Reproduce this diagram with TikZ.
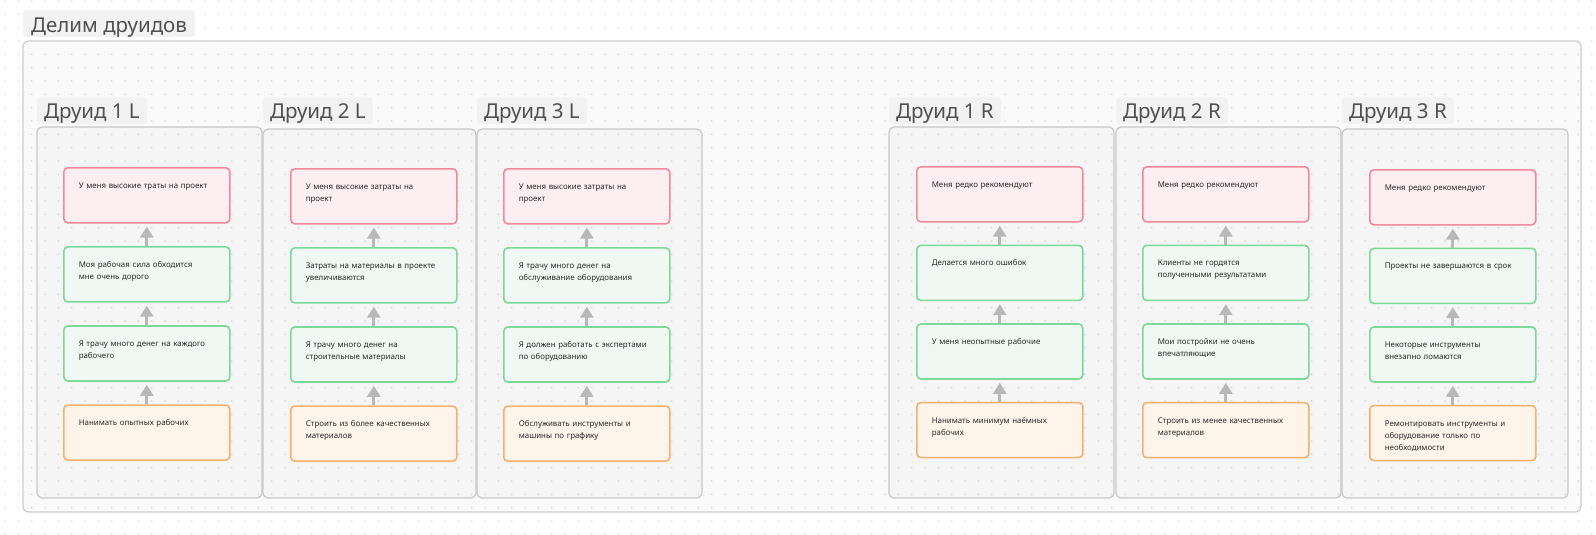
\documentclass[tikz,border=0pt]{standalone}
\usepackage{fontspec}
\setmainfont{Noto Sans}
\usetikzlibrary{arrows.meta,positioning}
\definecolor{pagedot}{HTML}{D6D6D6}
\definecolor{boardfill}{HTML}{FAFAFA}
\definecolor{boardline}{HTML}{CDCDCD}
\definecolor{colfill}{HTML}{F5F5F5}
\definecolor{colline}{HTML}{C8C8C8}
\definecolor{tagfill}{HTML}{F2F2F2}
\definecolor{tagtext}{HTML}{505050}
\definecolor{probline}{HTML}{F1899A}
\definecolor{probfill}{HTML}{FDEEF1}
\definecolor{causeline}{HTML}{7DD89A}
\definecolor{causefill}{HTML}{EFF8F2}
\definecolor{actline}{HTML}{F5B06E}
\definecolor{actfill}{HTML}{FEF4EA}
\definecolor{linkgray}{HTML}{B8B8B8}
\definecolor{cardtext}{HTML}{2A2A2A}
\tikzset{
  every picture/.style={line join=round},
  board/.style={fill=boardfill, draw=boardline, line width=1.2pt, rounded corners=5pt},
  column/.style={fill=colfill, draw=colline, line width=1.2pt, rounded corners=5pt},
  tag/.style={fill=tagfill, rounded corners=3pt, text=tagtext, inner xsep=7pt, inner ysep=0pt,
    text height=21pt, text depth=5.5pt, font=\fontsize{20.5}{24}\selectfont},
  card/.style={rounded corners=4pt, line width=1.6pt, text width=136pt, inner xsep=15pt,
    inner ysep=0pt, text height=20.5pt, text depth=34.5pt, align=left, text=cardtext,
    font=\fontsize{7.9}{12}\selectfont},
  prob/.style={card, draw=probline, fill=probfill},
  cause/.style={card, draw=causeline, fill=causefill},
  act/.style={card, draw=actline, fill=actfill},
  link/.style={linkgray, line width=2.8pt, -{Triangle[length=11pt,width=13pt]}, shorten >=3pt},
}

\begin{document}
\begin{tikzpicture}[x=1pt, y=-1pt]
\useasboundingbox[fill=white] (0,0) rectangle (1596,535);
% board and druid columns
\draw[board] (23,41) rectangle (1581,512);
\draw[column] (37,127) rectangle (262,498);
\draw[column] (263,129) rectangle (476,498);
\draw[column] (477,129) rectangle (702,498);
\draw[column] (889,127) rectangle (1114,498);
\draw[column] (1116,127) rectangle (1341,498);
\draw[column] (1342,129) rectangle (1568,498);
% dot grid
\foreach \j in {0,...,40}
  \fill[pagedot] \foreach \i in {0,...,119} {(4.3+13.333*\i, 0.3+13.333*\j) rectangle ++(1.4,1.4)};
% titles
\node[tag, anchor=south west, inner xsep=8pt, text height=22.3pt, text depth=4.7pt] (title) at (23,37) {Делим друидов};
\node[tag, anchor=south west] (h1l) at (37,124) {Друид 1 L};
\node[tag, anchor=south west] (h2l) at (263,124) {Друид 2 L};
\node[tag, anchor=south west] (h3l) at (477,124) {Друид 3 L};
\node[tag, anchor=south west] (h1r) at (889,124) {Друид 1 R};
\node[tag, anchor=south west] (h2r) at (1116,124) {Друид 2 R};
\node[tag, anchor=south west] (h3r) at (1342,124) {Друид 3 R};
% druid 1 L
\node[prob, anchor=north west] (l1prob) at (63,167) {У меня высокие траты на проект};
\node[cause, below=22.5pt of l1prob] (l1why) {Моя рабочая сила обходится\\мне очень дорого};
\node[cause, below=22.5pt of l1why] (l1root) {Я трачу много денег на каждого\\рабочего};
\node[act, below=22.5pt of l1root] (l1act) {Нанимать опытных рабочих};
% druid 2 L
\node[prob, anchor=north west] (l2prob) at (290,168) {У меня высокие затраты на\\проект};
\node[cause, below=22.5pt of l2prob] (l2why) {Затраты на материалы в проекте\\увеличиваются};
\node[cause, below=22.5pt of l2why] (l2root) {Я трачу много денег на\\строительные материалы};
\node[act, below=22.5pt of l2root] (l2act) {Строить из более качественных\\материалов};
% druid 3 L
\node[prob, anchor=north west] (l3prob) at (503,168) {У меня высокие затраты на\\проект};
\node[cause, below=22.5pt of l3prob] (l3why) {Я трачу много денег на\\обслуживание оборудования};
\node[cause, below=22.5pt of l3why] (l3root) {Я должен работать с экспертами\\по оборудованию};
\node[act, below=22.5pt of l3root] (l3act) {Обслуживать инструменты и\\машины по графику};
% druid 1 R
\node[prob, anchor=north west] (r1prob) at (916,166) {Меня редко рекомендуют};
\node[cause, below=22pt of r1prob] (r1why) {Делается много ошибок};
\node[cause, below=22pt of r1why] (r1root) {У меня неопытные рабочие};
\node[act, below=22pt of r1root] (r1act) {Нанимать минимум наёмных\\рабочих};
% druid 2 R
\node[prob, anchor=north west] (r2prob) at (1142,166) {Меня редко рекомендуют};
\node[cause, below=22pt of r2prob] (r2why) {Клиенты не гордятся\\полученными результатами};
\node[cause, below=22pt of r2why] (r2root) {Мои постройки не очень\\впечатляющие};
\node[act, below=22pt of r2root] (r2act) {Строить из менее качественных\\материалов};
% druid 3 R
\node[prob, anchor=north west] (r3prob) at (1369,169) {Меня редко рекомендуют};
\node[cause, below=22pt of r3prob] (r3why) {Проекты не завершаются в срок};
\node[cause, below=22pt of r3why] (r3root) {Некоторые инструменты\\внезапно ломаются};
\node[act, below=22pt of r3root] (r3act) {Ремонтировать инструменты и\\оборудование только по\\необходимости};
% links upwards
\foreach \c in {l1,l2,l3,r1,r2,r3} {
  \draw[link] (\c act) -- (\c root);
  \draw[link] (\c root) -- (\c why);
  \draw[link] (\c why) -- (\c prob);
}
\end{tikzpicture}
\end{document}
